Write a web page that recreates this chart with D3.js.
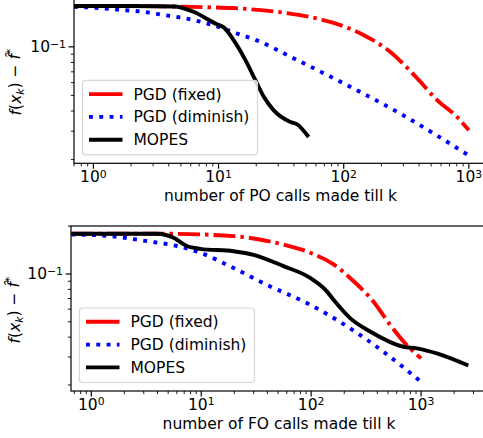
<!DOCTYPE html>
<html>
<head>
<meta charset="utf-8">
<script src="https://cdn.jsdelivr.net/npm/d3@7"></script>
<style>
body { margin: 0; background: #fff; }
svg text { font-family: "DejaVu Sans", sans-serif; fill: #000; }
</style>
</head>
<body>
<svg id="chart" width="483" height="438"></svg>
<script>
// ---- data ----
var seriesNames = ["PGD (fixed)", "PGD (diminish)", "MOPES"];

// top panel: PO calls
var poFixedX = [0.7, 1, 2, 4, 8, 13, 18, 33, 61, 100, 145, 236, 387, 558, 807, 1000];
var poFixedY = [0.179, 0.179, 0.179, 0.178, 0.176, 0.174, 0.171, 0.163, 0.150, 0.134, 0.118, 0.093, 0.0637, 0.0467, 0.0367, 0.0304];
var poDimX = [0.7, 1, 1.74, 2.5, 3.2, 6.7, 10, 14, 20, 40, 100, 284, 1000];
var poDimY = [0.177, 0.175, 0.169, 0.165, 0.160, 0.145, 0.133, 0.121, 0.110, 0.0847, 0.0593, 0.0385, 0.0212];
var poMopesX = [0.7, 1, 2, 4.4, 6.3, 9.7, 11, 13.2, 16.4, 19.7, 23, 27.5, 37.5, 42.4, 52.5];
var poMopesY = [0.179, 0.179, 0.179, 0.178, 0.165, 0.138, 0.132, 0.110, 0.0827, 0.0621, 0.049, 0.0405, 0.0342, 0.0331, 0.0276];

// bottom panel: FO calls
var foFixedX = [0.66, 1, 4.9, 19.7, 56, 98, 160, 226, 368, 523, 741, 1000];
var foFixedY = [0.179, 0.179, 0.179, 0.173, 0.153, 0.136, 0.115, 0.0944, 0.067, 0.0478, 0.0357, 0.0294];
var foDimX = [0.66, 1, 1.5, 3.2, 6, 9.8, 19.7, 39.5, 98, 226, 454, 1000];
var foDimY = [0.177, 0.176, 0.173, 0.161, 0.150, 0.136, 0.109, 0.0855, 0.064, 0.0455, 0.0324, 0.0209];
var foMopesX = [0.66, 1, 3.95, 5.6, 7.4, 9.8, 19.7, 29.9, 56, 98, 139, 160, 226, 344, 690, 913, 1390, 2690];
var foMopesY = [0.179, 0.179, 0.179, 0.169, 0.150, 0.144, 0.139, 0.132, 0.112, 0.0944, 0.0777, 0.0687, 0.0527, 0.0434, 0.0348, 0.034, 0.0316, 0.0265];

var xTickExps = [0, 1, 2, 3];
var yTickExps = [-1];
var xLabels = ["number of PO calls made till k", "number of FO calls made till k"];

// ---- styles ----
var FONT = 15.5;
var LW = 3.9;
var styles = [
    { color: "#ff0000", dash: "22,5,3.5,5", legendDash: null },
    { color: "#0000ff", dash: "3.9,6.4", legendDash: "3.9,6.4" },
    { color: "#000000", dash: null, legendDash: null }
];

var svg = d3.select("#chart");

var zip = function(xs, ys) {
    return xs.map(function(x, i) { return [x, ys[i]]; });
}

var drawPanel = function(p) {
    var x = d3.scaleLog().domain(p.xdom).range([p.left, p.right]);
    var y = d3.scaleLog().domain(p.ydom).range([p.bottom, p.top]);
    var g = svg.append("g");

    g.append("clipPath").attr("id", "clip" + p.id)
        .append("rect")
        .attr("x", p.left).attr("y", p.top)
        .attr("width", p.right - p.left).attr("height", p.bottom - p.top);

    var line = d3.line()
        .x(function(d) { return x(d[0]); })
        .y(function(d) { return y(d[1]); })
        .curve(d3.curveMonotoneX);

    var lines = g.append("g").attr("clip-path", "url(#clip" + p.id + ")");
    p.series.forEach(function(s, i) {
        lines.append("path")
            .datum(zip(s[0], s[1]))
            .attr("d", line)
            .attr("fill", "none")
            .attr("stroke", styles[i].color)
            .attr("stroke-width", LW)
            .attr("stroke-dasharray", styles[i].dash)
            .attr("stroke-linejoin", "round");
    });

    // frame
    g.append("rect")
        .attr("x", p.left).attr("y", p.top)
        .attr("width", p.right - p.left).attr("height", p.bottom - p.top)
        .attr("fill", "none").attr("stroke", "#000").attr("stroke-width", 1.2);

    // x ticks
    var xd = x.domain();
    var xminor = [];
    for (var e = -1; e <= 4; e++)
        for (var m = 2; m <= 9; m++) {
            var v = m * Math.pow(10, e);
            if (v > xd[0] && v < xd[1]) xminor.push(v);
        }
    g.selectAll(".xminor").data(xminor).enter().append("line")
        .attr("x1", function(d) { return x(d); }).attr("x2", function(d) { return x(d); })
        .attr("y1", p.bottom).attr("y2", p.bottom + 3.1)
        .attr("stroke", "#000").attr("stroke-width", 0.9);
    g.selectAll(".xmajor").data(xTickExps).enter().append("line")
        .attr("x1", function(d) { return x(Math.pow(10, d)); })
        .attr("x2", function(d) { return x(Math.pow(10, d)); })
        .attr("y1", p.bottom).attr("y2", p.bottom + 5.4)
        .attr("stroke", "#000").attr("stroke-width", 1.2);
    var xt = g.selectAll(".xtl").data(xTickExps).enter().append("text")
        .attr("x", function(d) { return x(Math.pow(10, d)); })
        .attr("y", p.bottom + 19)
        .attr("text-anchor", "middle")
        .style("font-size", FONT + "px");
    xt.append("tspan").text("10");
    xt.append("tspan").attr("dy", "-0.42em").style("font-size", "70%")
        .text(function(d) { return d; });

    // y ticks
    var yd = y.domain();
    var yminor = [];
    for (var e2 = -3; e2 <= 0; e2++)
        for (var m2 = 2; m2 <= 9; m2++) {
            var v2 = m2 * Math.pow(10, e2);
            if (v2 > yd[0] && v2 < yd[1]) yminor.push(v2);
        }
    g.selectAll(".yminor").data(yminor).enter().append("line")
        .attr("x1", p.left - 3.1).attr("x2", p.left)
        .attr("y1", function(d) { return y(d); }).attr("y2", function(d) { return y(d); })
        .attr("stroke", "#000").attr("stroke-width", 0.9);
    g.selectAll(".ymajor").data(yTickExps).enter().append("line")
        .attr("x1", p.left - 5.4).attr("x2", p.left)
        .attr("y1", function(d) { return y(Math.pow(10, d)); })
        .attr("y2", function(d) { return y(Math.pow(10, d)); })
        .attr("stroke", "#000").attr("stroke-width", 1.2);
    var yt = g.selectAll(".ytl").data(yTickExps).enter().append("text")
        .attr("x", p.left - 8)
        .attr("y", function(d) { return y(Math.pow(10, d)) + 5.5; })
        .attr("text-anchor", "end")
        .style("font-size", FONT + "px");
    yt.append("tspan").text("10");
    yt.append("tspan").attr("dy", "-0.42em").style("font-size", "70%")
        .text(function(d) { return "\u2212" + Math.abs(d); });

    // axis labels
    g.append("text")
        .attr("x", (p.left + p.right) / 2)
        .attr("y", p.bottom + 38)
        .attr("text-anchor", "middle")
        .style("font-size", FONT + "px")
        .text(p.xlabel);

    var yl = g.append("text")
        .attr("transform", "translate(" + p.ylabelX + "," + p.ylabelY + ") rotate(-90)")
        .attr("text-anchor", "middle")
        .style("font-size", FONT + "px");
    yl.append("tspan").style("font-style", "italic").text("f");
    yl.append("tspan").text("(");
    yl.append("tspan").style("font-style", "italic").text("x");
    yl.append("tspan").attr("dy", "0.25em").style("font-size", "70%").style("font-style", "italic").text("k");
    yl.append("tspan").attr("dy", "-0.25em").text(") \u2212 ");
    yl.append("tspan").style("font-style", "italic").text("f\u0302");
    yl.append("tspan").attr("dy", "-0.5em").style("font-size", "70%").text("*");

    // legend
    var lx = p.left + 8.5, lw = 175, lh = 74.5;
    var ly = p.bottom - 8.5 - lh;
    var lg = g.append("g");
    lg.append("rect")
        .attr("x", lx).attr("y", ly).attr("width", lw).attr("height", lh)
        .attr("rx", 3).attr("fill", "#fff").attr("fill-opacity", 0.8)
        .attr("stroke", "#d6d6d6").attr("stroke-width", 1.2);
    seriesNames.forEach(function(name, i) {
        var ry = ly + 13.8 + i * 22.8;
        lg.append("line")
            .attr("x1", lx + 6.5).attr("x2", lx + 40)
            .attr("y1", ry).attr("y2", ry)
            .attr("stroke", styles[i].color)
            .attr("stroke-width", LW)
            .attr("stroke-dasharray", styles[i].legendDash);
        lg.append("text")
            .attr("x", lx + 51).attr("y", ry + 5.5)
            .style("font-size", FONT + "px")
            .text(name);
    });
}

drawPanel({
    id: "top",
    left: 74, right: 487, top: -1.4, bottom: 163.3,
    xdom: [Math.pow(10, -0.155), Math.pow(10, 3.145)],
    ydom: [Math.pow(10, -1.722), Math.pow(10, -0.701)],
    xlabel: xLabels[0],
    ylabelX: 21, ylabelY: 82,
    series: [[poFixedX, poFixedY], [poDimX, poDimY], [poMopesX, poMopesY]]
});

drawPanel({
    id: "bot",
    left: 71, right: 487, top: 226, bottom: 391,
    xdom: [Math.pow(10, -0.185), Math.pow(10, 3.6)],
    ydom: [Math.pow(10, -1.737), Math.pow(10, -0.698)],
    xlabel: xLabels[1],
    ylabelX: 20, ylabelY: 310,
    series: [[foFixedX, foFixedY], [foDimX, foDimY], [foMopesX, foMopesY]]
});
</script>
</body>
</html>
